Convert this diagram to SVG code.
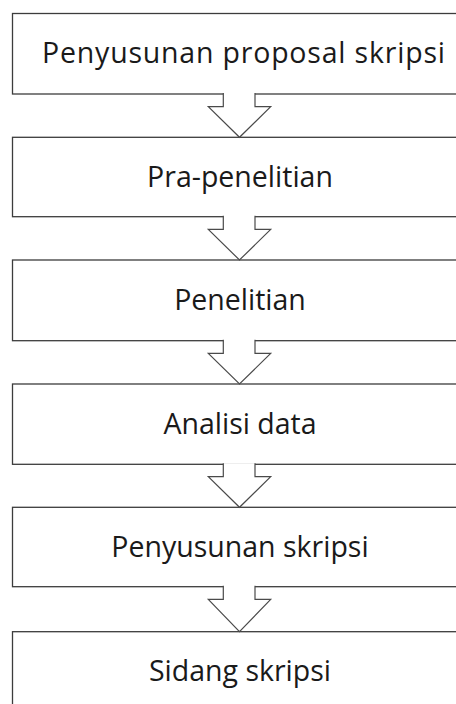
<svg xmlns="http://www.w3.org/2000/svg" width="456" height="704" viewBox="0 0 456 704">
<style>
.box{fill:#fff;stroke:#3c3c3c;stroke-width:1.3}
.arr{fill:#fff;stroke:#4a4a4a;stroke-width:1.2}
.t{font-family:"Open Sans","Liberation Sans",sans-serif;font-size:28.5px;fill:#1a1a1a;text-anchor:middle}
</style>
<rect width="456" height="704" fill="#fff"/>
<g id="n1"><rect class="box" x="12.5" y="13.5" width="470" height="80.5"/><text class="t" x="243.5" y="63" textLength="403" lengthAdjust="spacing">Penyusunan proposal skripsi</text></g>
<g id="n2"><rect class="box" x="12.5" y="137.3" width="470" height="79.4"/><text class="t" x="240" y="187">Pra-penelitian</text></g>
<g id="n3"><rect class="box" x="12.5" y="260" width="470" height="80.7"/><text class="t" x="240" y="310">Penelitian</text></g>
<g id="n4"><rect class="box" x="12.5" y="384" width="470" height="80.3"/><text class="t" x="240" y="434">Analisi data</text></g>
<g id="n5"><rect class="box" x="12.5" y="507.3" width="470" height="79.4"/><text class="t" x="240" y="557">Penyusunan skripsi</text></g>
<g id="n6"><rect class="box" x="12.5" y="631.7" width="470" height="90"/><text class="t" x="240" y="681">Sidang skripsi</text></g>
<g id="connectors">
<path class="arr" d="M223.3,93 V106.7 H208.3 L239.5,137.3 L270.7,106.7 H255 V93"/>
<path class="arr" d="M223.3,215.7 V229.4 H208.3 L239.5,260 L270.7,229.4 H255 V215.7"/>
<path class="arr" d="M223.3,339.7 V353.4 H208.3 L239.5,384 L270.7,353.4 H255 V339.7"/>
<path class="arr" d="M223.3,463.3 V476.7 H208.3 L239.5,507.3 L270.7,476.7 H255 V463.3"/>
<path class="arr" d="M223.3,585.7 V599.3 H208.3 L239.5,631.7 L270.7,599.3 H255 V585.7"/>
</g>
</svg>
